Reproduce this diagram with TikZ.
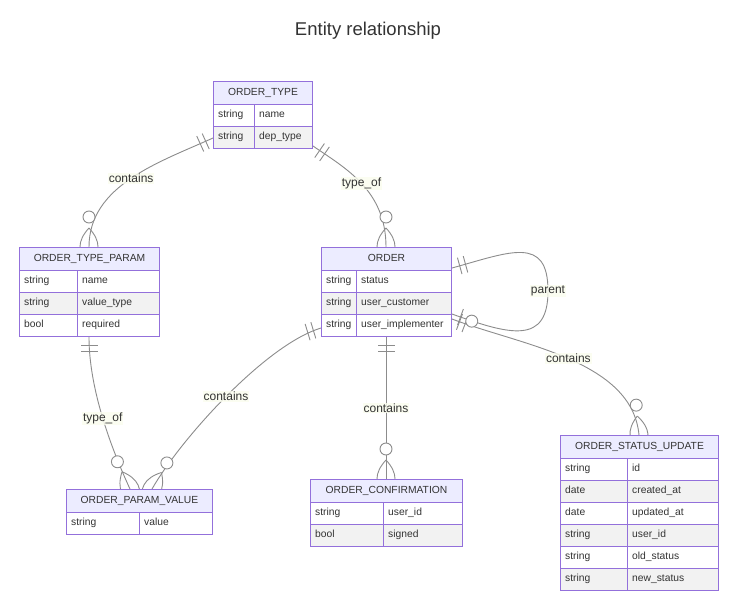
\documentclass[tikz,border=0pt]{standalone}
\usepackage{fontspec}
\setmainfont{Liberation Sans}
\usetikzlibrary{calc,positioning}
\pgfdeclarelayer{bg}
\pgfsetlayers{bg,main}
\definecolor{erborder}{HTML}{9370DB}
\definecolor{erhead}{HTML}{ECECFF}
\definecolor{errow}{HTML}{F2F2F2}
\definecolor{ertext}{HTML}{333333}
\definecolor{erlink}{HTML}{8C8C8C}
\definecolor{erlabel}{HTML}{FBFDEE}

\tikzset{
  erline/.style={draw=erlink, line width=0.9pt},
  erframe/.style={draw=erborder, line width=1pt, anchor=north west, inner sep=0pt},
  erhead/.style={draw=erborder, fill=erhead, line width=1pt, anchor=north west, inner sep=0pt,
    minimum height=23pt, text=ertext, font=\fontsize{10.3}{12}\selectfont, text height=7.5pt, text depth=2pt},
  ercell/.style={draw=erborder, line width=1pt},
  erattr/.style={anchor=west, inner sep=0pt, text=ertext, font=\fontsize{10.3}{12}\selectfont,
    text height=7.5pt, text depth=2pt},
  erlbl/.style={fill=erlabel, fill opacity=0.8, text opacity=1, text=ertext, inner sep=1pt,
    font=\fontsize{12}{14}\selectfont},
  ertitle/.style={text=ertext, font=\fontsize{18.5}{22}\selectfont}
}

% one and only one: two bars near the end #1, line heading to #2
\newcommand{\onlyone}[2]{%
  \draw[erline] ($(#1)!8pt!(#2)!8.5pt!90:(#2)$) -- ($(#1)!8pt!(#2)!8.5pt!-90:(#2)$);
  \draw[erline] ($(#1)!14pt!(#2)!8.5pt!90:(#2)$) -- ($(#1)!14pt!(#2)!8.5pt!-90:(#2)$);
}
% zero or one: bar and circle
\newcommand{\zeroone}[2]{%
  \draw[erline] ($(#1)!9pt!(#2)!8.5pt!90:(#2)$) -- ($(#1)!9pt!(#2)!8.5pt!-90:(#2)$);
  \draw[erline, fill=white] ($(#1)!21pt!(#2)$) circle (6pt);
}
% zero or more: crow's foot and circle
\newcommand{\crowfoot}[2]{%
  \draw[erline] ($(#1)!19pt!(#2)$) .. controls ($(#1)!6pt!(#2)!12pt!90:(#2)$)
    and ($(#1)!-6pt!(#2)!12pt!90:(#2)$) .. ($(#1)!-18pt!(#2)$);
  \draw[erline] ($(#1)!19pt!(#2)$) .. controls ($(#1)!6pt!(#2)!12pt!-90:(#2)$)
    and ($(#1)!-6pt!(#2)!12pt!-90:(#2)$) .. ($(#1)!-18pt!(#2)$);
  \draw[erline, fill=white] ($(#1)!30pt!(#2)$) circle (6pt);
}

\begin{document}
\begin{tikzpicture}[x=1pt,y=-1pt]
\useasboundingbox (0,0) rectangle (745,616);

\node[ertitle] (title) at (368,31) {Entity relationship};

%ORDER_TYPE
\node[erhead, minimum width=99pt] (otype-h) at (213,81) {ORDER\_TYPE};
\foreach \atype/\aname/\rfill [count=\i] in {string/name/white, string/dep\_type/errow}{
  \draw[ercell, fill=\rfill] (213,82+22*\i) rectangle ++(99,22);
  \draw[ercell] (254,82+22*\i) -- ++(0,22);
  \node[erattr] (otype-t\i) at (218,93+22*\i) {\atype};
  \node[erattr] (otype-a\i) at (259,93+22*\i) {\aname};
}
\node[erframe, minimum width=99pt, minimum height=67pt] (otype) at (213,81) {};

%ORDER_TYPE_PARAM
\node[erhead, minimum width=140pt] (otparam-h) at (19,247) {ORDER\_TYPE\_PARAM};
\foreach \atype/\aname/\rfill [count=\i] in {string/name/white, string/value\_type/errow, bool/required/white}{
  \draw[ercell, fill=\rfill] (19,248+22*\i) rectangle ++(140,22);
  \draw[ercell] (77,248+22*\i) -- ++(0,22);
  \node[erattr] (otparam-t\i) at (24,259+22*\i) {\atype};
  \node[erattr] (otparam-a\i) at (82,259+22*\i) {\aname};
}
\node[erframe, minimum width=140pt, minimum height=89pt] (otparam) at (19,247) {};

%ORDER
\node[erhead, minimum width=130pt] (order-h) at (321,247) {ORDER};
\foreach \atype/\aname/\rfill [count=\i] in {string/status/white, string/user\_customer/errow, string/user\_implementer/white}{
  \draw[ercell, fill=\rfill] (321,248+22*\i) rectangle ++(130,22);
  \draw[ercell] (356,248+22*\i) -- ++(0,22);
  \node[erattr] (order-t\i) at (326,259+22*\i) {\atype};
  \node[erattr] (order-a\i) at (361,259+22*\i) {\aname};
}
\node[erframe, minimum width=130pt, minimum height=89pt] (order) at (321,247) {};

%ORDER_PARAM_VALUE
\node[erhead, minimum width=146pt] (opvalue-h) at (66,489) {ORDER\_PARAM\_VALUE};
\foreach \atype/\aname/\rfill [count=\i] in {string/value/white}{
  \draw[ercell, fill=\rfill] (66,490+22*\i) rectangle ++(146,22);
  \draw[ercell] (139,490+22*\i) -- ++(0,22);
  \node[erattr] (opvalue-t\i) at (71,501+22*\i) {\atype};
  \node[erattr] (opvalue-a\i) at (144,501+22*\i) {\aname};
}
\node[erframe, minimum width=146pt, minimum height=45pt] (opvalue) at (66,489) {};

%ORDER_CONFIRMATION
\node[erhead, minimum width=152pt] (oconf-h) at (310,479) {ORDER\_CONFIRMATION};
\foreach \atype/\aname/\rfill [count=\i] in {string/user\_id/white, bool/signed/errow}{
  \draw[ercell, fill=\rfill] (310,480+22*\i) rectangle ++(152,22);
  \draw[ercell] (383,480+22*\i) -- ++(0,22);
  \node[erattr] (oconf-t\i) at (315,491+22*\i) {\atype};
  \node[erattr] (oconf-a\i) at (388,491+22*\i) {\aname};
}
\node[erframe, minimum width=152pt, minimum height=67pt] (oconf) at (310,479) {};

%ORDER_STATUS_UPDATE
\node[erhead, minimum width=158pt] (osupdate-h) at (560,435) {ORDER\_STATUS\_UPDATE};
\foreach \atype/\aname/\rfill [count=\i] in {string/id/white, date/created\_at/errow, date/updated\_at/white,
    string/user\_id/errow, string/old\_status/white, string/new\_status/errow}{
  \draw[ercell, fill=\rfill] (560,436+22*\i) rectangle ++(158,22);
  \draw[ercell] (627,436+22*\i) -- ++(0,22);
  \node[erattr] (osupdate-t\i) at (565,447+22*\i) {\atype};
  \node[erattr] (osupdate-a\i) at (632,447+22*\i) {\aname};
}
\node[erframe, minimum width=158pt, minimum height=155pt] (osupdate) at (560,435) {};

%ends of the relationships
\coordinate (c1a) at ([yshift=11pt]otype.south west);
\coordinate (c1b) at ([xshift=70pt]otparam.north west);
\coordinate (c2a) at ([yshift=3pt]otype.south east);
\coordinate (c2b) at ([xshift=65pt]order.north west);
\coordinate (c3a) at ([xshift=70pt]otparam.south west);
\coordinate (c3b) at ([xshift=64pt]opvalue.north west);
\coordinate (c4a) at ([yshift=9pt]order.south west);
\coordinate (c4b) at ([xshift=86pt]opvalue.north west);
\coordinate (c5a) at ([xshift=65pt]order.south west);
\coordinate (c5b) at ([xshift=76pt]oconf.north west);
\coordinate (c6a) at ([yshift=18pt]order.south east);
\coordinate (c6b) at ([xshift=79pt]osupdate.north west);
\coordinate (c7a) at ([yshift=-21pt]order.north east);
\coordinate (c7b) at ([yshift=23pt]order.south east);

\begin{pgfonlayer}{bg}
\fill[white] (0,0) rectangle (745,616);

%ORDER_TYPE -- ORDER_TYPE_PARAM
\draw[erline] (c1a) .. controls (160,162) and (89,185) .. (c1b) node[erlbl, pos=0.5] (l1) {contains};
\onlyone{c1a}{160,162}
\crowfoot{c1b}{89,185}

%ORDER_TYPE -- ORDER
\draw[erline] (c2a) .. controls (345,168) and (386,190) .. (c2b) node[erlbl, pos=0.5] (l2) {type\_of};
\onlyone{c2a}{345,168}
\crowfoot{c2b}{386,190}

%ORDER_TYPE_PARAM -- ORDER_PARAM_VALUE
\draw[erline] (c3a) .. controls (89,390) and (112,450) .. (c3b) node[erlbl, pos=0.5] (l3) {type\_of};
\onlyone{c3a}{89,390}
\crowfoot{c3b}{112,450}

%ORDER -- ORDER_PARAM_VALUE
\draw[erline] (c4a) .. controls (265,345) and (180,440) .. (c4b) node[erlbl, pos=0.5] (l4) {contains};
\onlyone{c4a}{265,345}
\crowfoot{c4b}{180,440}

%ORDER -- ORDER_CONFIRMATION
\draw[erline] (c5a) -- (c5b) node[erlbl, pos=0.5] (l5) {contains};
\onlyone{c5a}{c5b}
\crowfoot{c5b}{c5a}

%ORDER -- ORDER_STATUS_UPDATE
\draw[erline] (c6a) .. controls (520,345) and (632,360) .. (c6b) node[erlbl, pos=0.5] (l6) {contains};
\onlyone{c6a}{520,345}
\crowfoot{c6b}{632,360}

%ORDER -- ORDER (parent)
\draw[erline] (c7a) .. controls (510,252) and (548,235) .. (548,291)
  .. controls (548,345) and (510,335) .. (c7b);
\node[erlbl] (l7) at (548,291) {parent};
\onlyone{c7a}{510,252}
\zeroone{c7b}{510,335}
\end{pgfonlayer}

\end{tikzpicture}
\end{document}
